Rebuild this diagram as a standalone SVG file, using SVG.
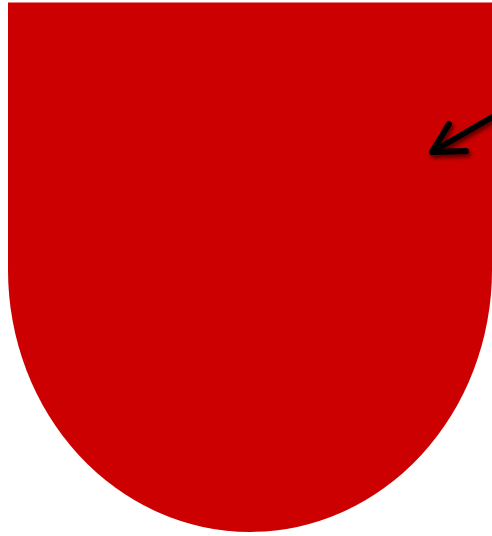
<svg xmlns="http://www.w3.org/2000/svg" width="492" height="536" viewBox="0 0 492 536">
<defs>
<filter id="sh" x="-30%" y="-30%" width="160%" height="160%">
<feGaussianBlur in="SourceAlpha" stdDeviation="2"/>
<feOffset dx="2" dy="3" result="b"/>
<feComponentTransfer><feFuncA type="linear" slope="0.6"/></feComponentTransfer>
<feMerge><feMergeNode/><feMergeNode in="SourceGraphic"/></feMerge>
</filter>
</defs>
<style>
.shape{fill:#CC0000}
.arrow{fill:none;stroke:#000;stroke-width:6;stroke-linecap:round;stroke-linejoin:round}
</style>
<g id="shape">
<path class="shape" d="M8,2.5 H492 V270 A242,262 0 0 1 8,270 Z"/>
</g>
<g id="connectors" filter="url(#sh)">
<path class="arrow" d="M494,116 L432,152"/>
<path class="arrow" d="M449,124 L432,152 L466,151"/>
</g>
</svg>
